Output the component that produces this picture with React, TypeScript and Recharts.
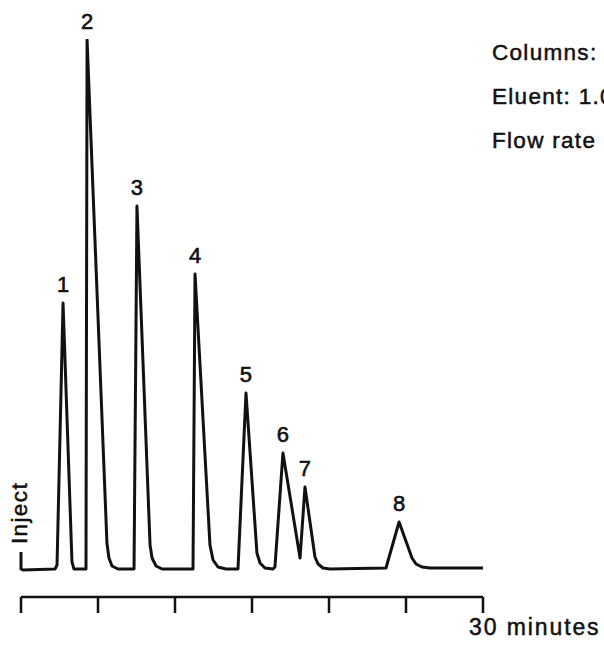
import React from 'react';
import { ComposedChart, Line, XAxis, YAxis, ReferenceDot } from 'recharts';

// Chromatogram trace: time (min) vs detector response (arbitrary units)
const traceTime = [
  0, 0, 0.13, 2.21, 2.34, 2.73, 3.31, 3.44, 4.22, 4.29, 5.58, 5.71, 5.91, 6.3,
  7.34, 7.53, 8.38, 8.51, 8.77, 9.16, 11.17, 11.3, 12.27, 12.47, 12.79, 13.31,
  14.09, 14.61, 15.32, 15.52, 15.84, 16.36, 16.49, 17.01, 18.12, 18.44, 19.09,
  19.29, 19.61, 20.06, 23.7, 24.55, 25.39, 25.65, 26.04, 26.56, 30,
];
const traceResponse = [
  17, 0, -1, 0, 4, 266, 7, 0, 0, 529, 26, 11, 3, 0,
  0, 363, 24, 11, 3, 0, 0, 295, 24, 9, 2, 0,
  0, 176, 16, 6, 1, 0, 2, 116, 11, 82, 12,
  5, 1, 0, 1, 47, 11, 5, 2, 1, 1,
];

// Peak numbers and apex positions
const peakNames = ['1', '2', '3', '4', '5', '6', '7', '8'];
const peakTime = [2.73, 4.29, 7.53, 11.3, 14.61, 17.01, 18.44, 24.55];
const peakResponse = [266, 529, 363, 295, 176, 116, 82, 47];

const timeTicks = [0, 5, 10, 15, 20, 25, 30];
const axisUnitLabel = '30 minutes';
const conditionLines = ['Columns:', 'Eluent: 1.0', 'Flow rate'];
const injectLabel = 'Inject';

const data = traceTime.map((t, i) => ({ t, v: traceResponse[i] }));
const peaks = peakNames.map((name, i) => ({ name, t: peakTime[i], v: peakResponse[i] }));

const FONT = '"Liberation Sans", Arial, Helvetica, sans-serif';
const INK = '#111';

const TimeTick = (props: any) => {
  const { x, y, payload } = props;
  if (payload.value !== 30) return <g />;
  return (
    <text x={x - 14} y={y + 20} fontFamily={FONT} fontSize={23} fill={INK} stroke={INK} strokeWidth={0.5} letterSpacing={1.9}>
      {axisUnitLabel}
    </text>
  );
};

export default function App() {
  return (
    <div style={{ position: 'absolute', left: 0, top: 0, width: 604, height: 647, overflow: 'hidden', background: '#fff' }}>
      <ComposedChart
        width={604}
        height={647}
        data={data}
        margin={{ top: 39, right: 121, bottom: 20, left: 21 }}
      >
        <XAxis
          dataKey="t"
          type="number"
          domain={[0, 30]}
          ticks={timeTicks}
          height={30}
          tickSize={16}
          axisLine={{ stroke: INK, strokeWidth: 2.5 }}
          tickLine={{ stroke: INK, strokeWidth: 2.5 }}
          tick={<TimeTick />}
          interval={0}
        />
        <YAxis type="number" domain={[-28, 530]} hide allowDataOverflow />
        <Line
          type="linear"
          dataKey="v"
          stroke={INK}
          strokeWidth={3}
          strokeLinejoin="round"
          dot={false}
          activeDot={false}
          isAnimationActive={false}
        />
        {peaks.map((p) => (
          <ReferenceDot
            key={p.name}
            x={p.t}
            y={p.v}
            r={0}
            fill="none"
            stroke="none"
            label={{
              value: p.name,
              position: 'top',
              offset: 11,
              fontSize: 22,
              fontFamily: FONT,
              fill: INK,
              stroke: INK,
              strokeWidth: 0.6,
            }}
          />
        ))}
      </ComposedChart>
      <svg width={604} height={647} style={{ position: 'absolute', left: 0, top: 0, pointerEvents: 'none' }}>
        {conditionLines.map((s, i) => (
          <text key={s} x={492} y={60 + i * 44} fontFamily={FONT} fontSize={22.5} fill={INK} stroke={INK} strokeWidth={0.5} letterSpacing={1.3}>
            {s}
          </text>
        ))}
        <text
          transform="translate(27,513) rotate(-90)"
          textAnchor="middle"
          fontFamily={FONT}
          fontSize={22.5}
          fill={INK}
          stroke={INK}
          strokeWidth={0.5}
          letterSpacing={1.4}
        >
          {injectLabel}
        </text>
      </svg>
    </div>
  );
}
